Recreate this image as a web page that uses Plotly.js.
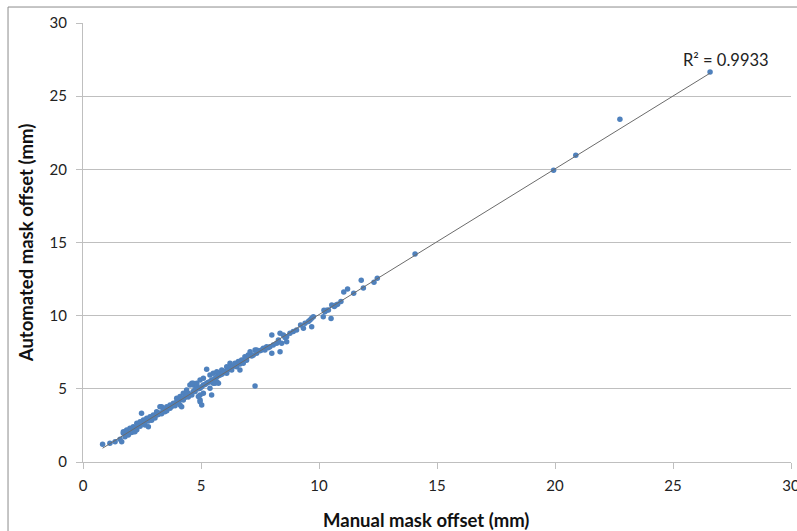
<!DOCTYPE html>
<html>
<head>
<meta charset="utf-8">
<script src="https://cdn.plot.ly/plotly-3.0.1.min.js"></script>
<style>html,body{margin:0;padding:0;background:#fff;overflow:hidden;width:797px;height:531px;}#chart{width:820px;height:531px;}</style>
</head>
<body>
<div id="chart"></div>
<script>
const manualOffset = [0.83,1.14,1.36,1.57,1.64,1.71,1.71,1.78,1.85,1.85,1.92,1.99,2.05,2.13,2.13,2.20,2.20,2.28,2.28,2.34,2.42,2.42,2.48,2.53,2.56,2.63,2.63,2.70,2.77,2.77,2.84,2.91,2.91,2.98,3.05,3.12,3.12,3.19,3.26,3.26,3.33,3.33,3.40,3.47,3.47,3.55,3.55,3.62,3.69,3.69,3.76,3.83,3.90,3.97,3.97,4.04,4.11,4.11,4.11,4.18,4.18,4.25,4.25,4.25,4.32,4.39,4.39,4.46,4.46,4.53,4.53,4.61,4.61,4.67,4.67,4.67,4.75,4.75,4.82,4.82,4.89,4.89,4.96,4.96,4.96,4.96,4.96,5.03,5.03,5.10,5.10,5.10,5.17,5.24,5.24,5.31,5.38,5.38,5.38,5.45,5.45,5.52,5.52,5.52,5.59,5.59,5.67,5.67,5.67,5.74,5.74,5.81,5.81,5.88,5.88,5.95,6.02,6.09,6.09,6.16,6.23,6.23,6.30,6.37,6.44,6.51,6.58,6.65,6.65,6.72,6.79,6.86,6.93,6.93,7.00,7.08,7.15,7.22,7.29,7.29,7.36,7.36,7.50,7.57,7.64,7.71,7.78,7.85,7.92,8.00,8.00,8.06,8.21,8.28,8.35,8.35,8.42,8.49,8.56,8.63,8.63,8.77,8.91,9.05,9.22,9.34,9.41,9.55,9.62,9.69,9.69,9.76,10.18,10.21,10.25,10.32,10.40,10.51,10.54,10.65,10.72,10.79,10.93,11.05,11.21,11.47,11.79,11.88,12.33,12.47,14.07,19.94,20.88,22.75,26.57];
const automatedOffset = [1.21,1.28,1.39,1.55,1.39,1.96,2.07,1.73,1.96,2.19,1.85,2.30,2.02,2.07,2.41,2.07,2.30,2.64,2.20,2.53,2.75,2.45,3.33,2.62,2.87,2.53,2.75,2.99,2.41,2.80,3.10,3.10,2.85,3.21,3.00,3.44,3.21,3.25,3.78,3.35,3.78,3.30,3.55,3.44,3.62,3.78,3.50,3.70,3.67,3.90,3.80,4.01,3.85,4.12,4.35,4.05,3.90,4.24,4.47,3.78,4.30,4.24,4.35,4.70,4.40,4.58,4.92,4.70,4.45,5.26,4.60,4.58,5.38,4.81,5.26,5.38,4.81,4.95,5.26,5.38,4.47,5.00,4.12,4.24,4.58,5.04,5.60,3.90,5.15,4.70,5.26,5.72,5.30,5.38,6.34,5.45,5.04,5.49,5.95,4.58,5.60,5.38,5.60,6.06,5.38,5.70,5.49,5.83,6.17,5.38,5.90,5.95,6.06,6.29,6.00,6.10,6.20,6.06,6.51,6.30,6.51,6.75,6.29,6.55,6.75,6.51,6.86,6.29,6.70,6.97,6.75,7.20,7.09,6.95,7.31,7.54,7.25,7.31,5.19,7.66,7.43,7.66,7.60,7.66,7.77,7.66,7.88,7.80,7.88,7.43,8.68,8.00,8.11,8.34,7.54,8.80,8.11,8.68,8.50,8.22,8.56,8.80,8.91,9.02,9.36,9.14,9.48,9.60,9.71,9.82,9.25,9.93,9.93,10.37,10.27,10.37,10.39,9.80,10.73,10.62,10.73,10.78,10.96,11.62,11.82,11.53,12.42,11.89,12.28,12.55,14.22,19.94,20.96,23.42,26.66];
const xTicks = [0,5,10,15,20,25,30];
const yTicks = [0,5,10,15,20,25,30];
const xTitle = 'Manual mask offset (mm)';
const yTitle = 'Automated mask offset (mm)';
const rSquaredLabel = "R² = 0.9933";

// linear least-squares trend line from the data
const n = manualOffset.length;
let sx=0, sy=0, sxx=0, sxy=0;
for (let i=0;i<n;i++){ sx+=manualOffset[i]; sy+=automatedOffset[i]; sxx+=manualOffset[i]*manualOffset[i]; sxy+=manualOffset[i]*automatedOffset[i]; }
const slope = (n*sxy - sx*sy)/(n*sxx - sx*sx);
const intercept = (sy - slope*sx)/n;
const xMin = Math.min(...manualOffset), xMax = Math.max(...manualOffset);
const trendX = [xMin, xMax];
const trendY = trendX.map(v => intercept + slope*v);

const font = "Lato, 'Open Sans', sans-serif";

const data = [
  {
    x: manualOffset, y: automatedOffset, type: 'scatter', mode: 'markers',
    marker: {color: '#4F81BD', size: 5.5}, hoverinfo: 'skip', showlegend: false
  },
  {
    x: trendX, y: trendY, type: 'scatter', mode: 'lines',
    line: {color: '#6b6b6b', width: 1}, hoverinfo: 'skip', showlegend: false
  }
];

const layout = {
  width: 820, height: 531,
  margin: {l: 83, r: 29, t: 23, b: 69},
  paper_bgcolor: '#ffffff', plot_bgcolor: '#ffffff',
  font: {family: font, size: 15, color: '#222222'},
  showlegend: false,
  xaxis: {
    range: [0, 30], tickvals: xTicks, ticktext: xTicks.map(String),
    showgrid: false, zeroline: false, showline: true, linecolor: '#bfbfbf', linewidth: 1,
    ticks: 'outside', ticklen: 6, tickcolor: '#bfbfbf', tickwidth: 1, ticklabelstandoff: 4,
    tickfont: {family: font, size: 15, color: '#222'},
    automargin: false, fixedrange: true
  },
  yaxis: {
    range: [0, 30], tickvals: yTicks, ticktext: yTicks.map(String),
    showgrid: true, gridcolor: '#bfbfbf', gridwidth: 1,
    zeroline: false, showline: true, linecolor: '#bfbfbf', linewidth: 1,
    ticks: 'outside', ticklen: 6, tickcolor: '#bfbfbf', tickwidth: 1, ticklabelstandoff: 6,
    tickfont: {family: font, size: 15, color: '#222'},
    title: {text: yTitle, font: {family: font, size: 18.5, color: '#111', weight: 'bold'}, standoff: 11},
    automargin: false, fixedrange: true
  },
  annotations: [
    {x: 27.25, y: 27.5, xref: 'x', yref: 'y', text: rSquaredLabel, showarrow: false,
     font: {family: font, size: 16.5, color: '#222'}, xanchor: 'center', yanchor: 'middle'},
    {x: 0.4845, y: -0.132, xref: 'paper', yref: 'paper', text: xTitle, showarrow: false,
     font: {family: font, size: 18.5, color: '#111', weight: 'bold'}, xanchor: 'center', yanchor: 'middle'}
  ],
  shapes: [
    {type: 'rect', xref: 'paper', yref: 'paper', x0: -0.1059, x1: 1.2, y0: -0.3, y1: 1.0364,
     line: {color: '#8c8c8c', width: 1}, fillcolor: 'rgba(0,0,0,0)', layer: 'below'}
  ]
};

Plotly.newPlot('chart', data, layout, {displayModeBar: false, staticPlot: true});
</script>
</body>
</html>
